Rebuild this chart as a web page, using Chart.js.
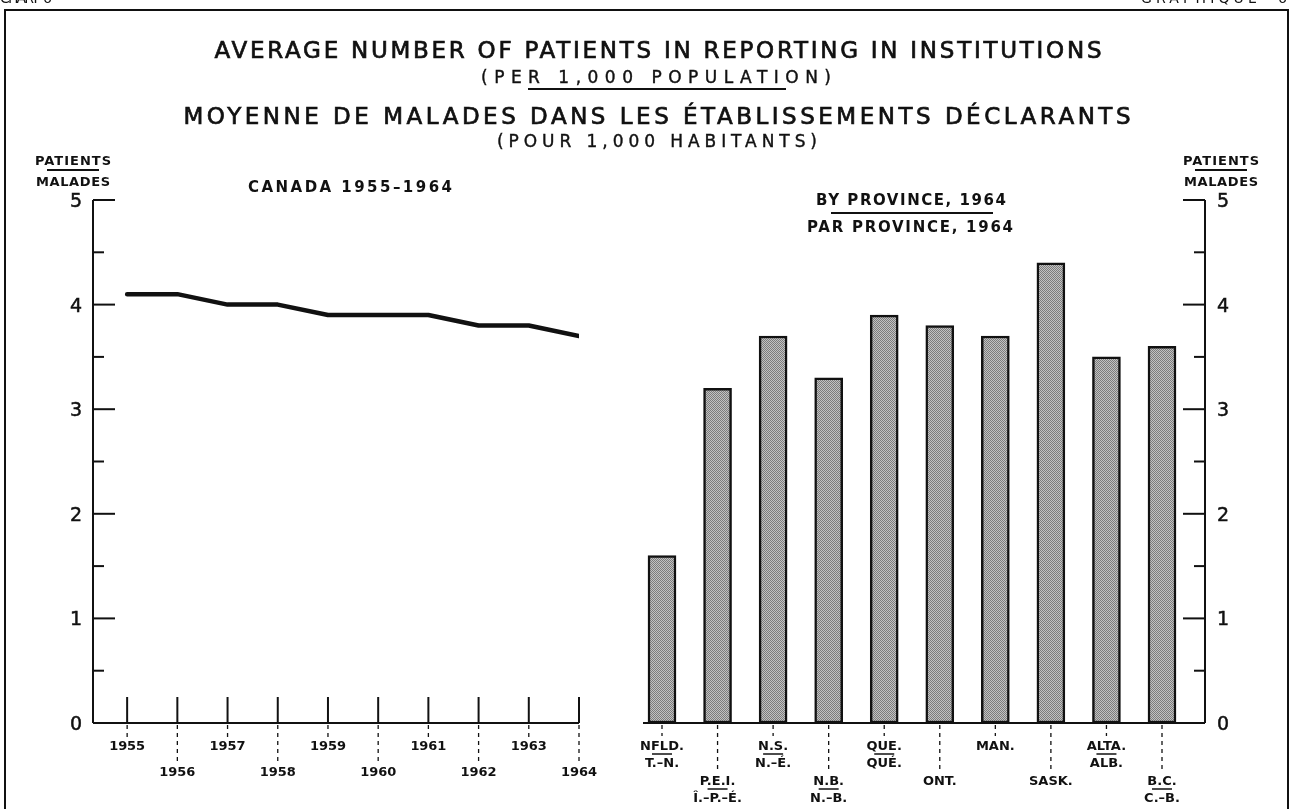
<!DOCTYPE html>
<html>
<head>
<meta charset="utf-8">
<script src="https://cdn.jsdelivr.net/npm/chart.js@4/dist/chart.umd.min.js"></script>
<style>
  html, body { margin: 0; padding: 0; background: #fff; }
  #wrap { position: relative; width: 1293px; height: 809px; overflow: hidden; }
  canvas { position: absolute; left: 0; top: 0; }
</style>
</head>
<body>
<div id="wrap">
  <canvas id="canada" width="1293" height="809"></canvas>
  <canvas id="provinces" width="1293" height="809"></canvas>
</div>
<script>
// --- data ---
const years = [1955, 1956, 1957, 1958, 1959, 1960, 1961, 1962, 1963, 1964];
const canadaRate = [4.1, 4.1, 4.0, 4.0, 3.9, 3.9, 3.9, 3.8, 3.8, 3.7];

const provinceEn = ["NFLD.", "P.E.I.", "N.S.", "N.B.", "QUE.", "ONT.", "MAN.", "SASK.", "ALTA.", "B.C."];
const provinceFr = ["T.–N.", "Î.–P.–É.", "N.–É.", "N.–B.", "QUÉ.", "", "", "", "ALB.", "C.–B."];
const provinceRate = [1.6, 3.2, 3.7, 3.3, 3.9, 3.8, 3.7, 4.4, 3.5, 3.6];

const yTicks = [0, 1, 2, 3, 4, 5];
const yTickLabels = ["0", "1", "2", "3", "4", "5"];

const ink = "#111";
const FONT = '"DejaVu Sans", sans-serif';

// text centred on (cx, cy), optionally spread out to a given width
function label(ctx, str, cx, cy, size, weight, width, thicken) {
  ctx.font = `${weight} ${size}px ${FONT}`;
  ctx.letterSpacing = "0px";
  const w = ctx.measureText(str).width;
  const n = [...str].length;
  let ls = 0;
  if (width && n > 1) ls = (width - w) / (n - 1);
  ctx.letterSpacing = ls + "px";
  ctx.textAlign = "left";
  ctx.textBaseline = "alphabetic";
  const x0 = cx - (w + ls * (n - 1)) / 2, y0 = cy + size * 0.365;
  ctx.fillText(str, x0, y0);
  if (thicken) {
    ctx.save();
    ctx.lineWidth = thicken;
    ctx.strokeText(str, x0, y0);
    ctx.restore();
  }
  ctx.letterSpacing = "0px";
}

function seg(ctx, x1, y1, x2, y2, dash) {
  ctx.setLineDash(dash || []);
  ctx.beginPath();
  ctx.moveTo(x1, y1);
  ctx.lineTo(x2, y2);
  ctx.stroke();
  ctx.setLineDash([]);
}

function stipple() {
  const c = document.createElement("canvas");
  c.width = 2; c.height = 2;
  const g = c.getContext("2d");
  g.fillStyle = "#c2c2c2"; g.fillRect(0, 0, 2, 2);
  g.fillStyle = "#7c7c7c"; g.fillRect(0, 0, 1, 1); g.fillRect(1, 1, 1, 1);
  return g.createPattern(c, "repeat");
}

// page furniture: frame, titles
const pageText = {
  id: "pageText",
  afterDraw(chart) {
    const ctx = chart.ctx;
    ctx.save();
    ctx.fillStyle = ink;
    ctx.strokeStyle = ink;
    ctx.lineWidth = 2;
    // frame
    ctx.beginPath();
    ctx.moveTo(5, 820); ctx.lineTo(5, 10); ctx.lineTo(1288, 10); ctx.lineTo(1288, 820);
    ctx.stroke();
    // cut-off header
    label(ctx, "CHART  6", 26, -2, 14, "normal", 52);
    label(ctx, "GRAPHIQUE  6", 1214, -2, 14, "normal", 146);

    label(ctx, "AVERAGE NUMBER OF PATIENTS IN REPORTING IN INSTITUTIONS", 658, 50, 23, "normal", 887, 0.7);
    label(ctx, "(PER 1,000 POPULATION)", 656, 77, 17, "normal", 350, 0.4);
    seg(ctx, 528, 89, 786, 89);
    label(ctx, "MOYENNE DE MALADES DANS LES ÉTABLISSEMENTS DÉCLARANTS", 657, 116, 23, "normal", 947, 0.7);
    label(ctx, "(POUR 1,000 HABITANTS)", 657, 141, 17, "normal", 320, 0.4);

    label(ctx, "CANADA 1955–1964", 350, 187, 15, "bold", 204);
    label(ctx, "BY PROVINCE, 1964", 911, 200, 15, "bold", 190);
    seg(ctx, 831, 213, 993, 213);
    label(ctx, "PAR PROVINCE, 1964", 910, 227, 15, "bold", 206);

    // unit captions
    [73, 1221].forEach(cx => {
      label(ctx, "PATIENTS", cx, 160, 13, "bold", 76);
      seg(ctx, cx - 26, 170, cx + 26, 170);
      label(ctx, "MALADES", cx, 181, 13, "bold", 74);
    });
    ctx.restore();
  }
};

function yAxis(ctx, area, y, side) {
  const ax = side === "left" ? area.left : area.right;
  const dir = side === "left" ? 1 : -1;
  seg(ctx, ax, y.getPixelForValue(5), ax, y.getPixelForValue(0));
  for (let v = 0.5; v <= 5; v += 0.5) {
    const py = y.getPixelForValue(v);
    const len = Number.isInteger(v) ? 22 : 11;
    seg(ctx, ax, py, ax + dir * len, py);
  }
  yTicks.forEach((v, i) => {
    label(ctx, yTickLabels[i], side === "left" ? 76 : 1223, y.getPixelForValue(v), 19, "normal", 0, 0.5);
  });
}

const canadaAxes = {
  id: "canadaAxes",
  afterDraw(chart) {
    const { ctx, chartArea: a, scales: { x, y } } = chart;
    ctx.save();
    ctx.strokeStyle = ink; ctx.fillStyle = ink; ctx.lineWidth = 2;
    yAxis(ctx, a, y, "left");
    const y0 = y.getPixelForValue(0);
    seg(ctx, a.left, y0, x.getPixelForValue(years[years.length - 1]), y0);
    years.forEach((yr, i) => {
      const px = x.getPixelForValue(yr);
      ctx.lineWidth = 2;
      seg(ctx, px, y0, px, y0 - 26);
      ctx.lineWidth = 1.3;
      const low = i % 2 === 1;
      seg(ctx, px, y0 + 2, px, low ? 762 : 737, [4, 4]);
      label(ctx, String(yr), px, low ? 771 : 745, 13, "bold", 36);
    });
    ctx.restore();
  }
};

const provinceAxes = {
  id: "provinceAxes",
  afterDraw(chart) {
    const { ctx, chartArea: a, scales: { x, y } } = chart;
    ctx.save();
    ctx.strokeStyle = ink; ctx.fillStyle = ink; ctx.lineWidth = 2;
    yAxis(ctx, a, y, "right");
    const y0 = y.getPixelForValue(0);
    seg(ctx, a.left, y0, a.right, y0);
    provinceEn.forEach((en, i) => {
      const px = x.getPixelForValue(i);
      const low = i % 2 === 1;
      const top = low ? 780 : 745;
      ctx.lineWidth = 1.3;
      seg(ctx, px, y0 + 2, px, low ? 770 : 736, [4, 4]);
      label(ctx, en, px, top, 13, "bold");
      if (provinceFr[i]) {
        ctx.lineWidth = 1.5;
        seg(ctx, px - 10, top + 9, px + 10, top + 9);
        label(ctx, provinceFr[i], px, top + 17, 13, "bold");
      }
    });
    ctx.restore();
  }
};

new Chart(document.getElementById("canada"), {
  type: "line",
  data: {
    datasets: [{
      data: years.map((yr, i) => ({ x: yr, y: canadaRate[i] })),
      borderColor: ink,
      borderWidth: 4.5,
      pointRadius: 0,
      tension: 0,
      borderJoinStyle: "round",
      borderCapStyle: "round"
    }]
  },
  options: {
    responsive: false,
    animation: false,
    layout: { padding: { left: 93, right: 1293 - 579, top: 200, bottom: 809 - 723 } },
    scales: {
      x: { type: "linear", min: 1954.32, max: 1964, display: false },
      y: { min: 0, max: 5, display: false }
    },
    plugins: { legend: { display: false }, tooltip: { enabled: false } }
  },
  plugins: [pageText, canadaAxes]
});

new Chart(document.getElementById("provinces"), {
  type: "bar",
  data: {
    datasets: [{
      data: provinceRate.map((v, i) => ({ x: i, y: v })),
      backgroundColor: stipple(),
      borderColor: ink,
      borderWidth: 2.5,
      borderSkipped: false,
      barThickness: 28
    }]
  },
  options: {
    responsive: false,
    animation: false,
    layout: { padding: { left: 643, right: 1293 - 1205, top: 200, bottom: 809 - 723 } },
    scales: {
      x: { type: "linear", offset: false, min: -0.342, max: 9.774, display: false },
      y: { min: 0, max: 5, display: false }
    },
    plugins: { legend: { display: false }, tooltip: { enabled: false } }
  },
  plugins: [provinceAxes]
});
</script>
</body>
</html>
